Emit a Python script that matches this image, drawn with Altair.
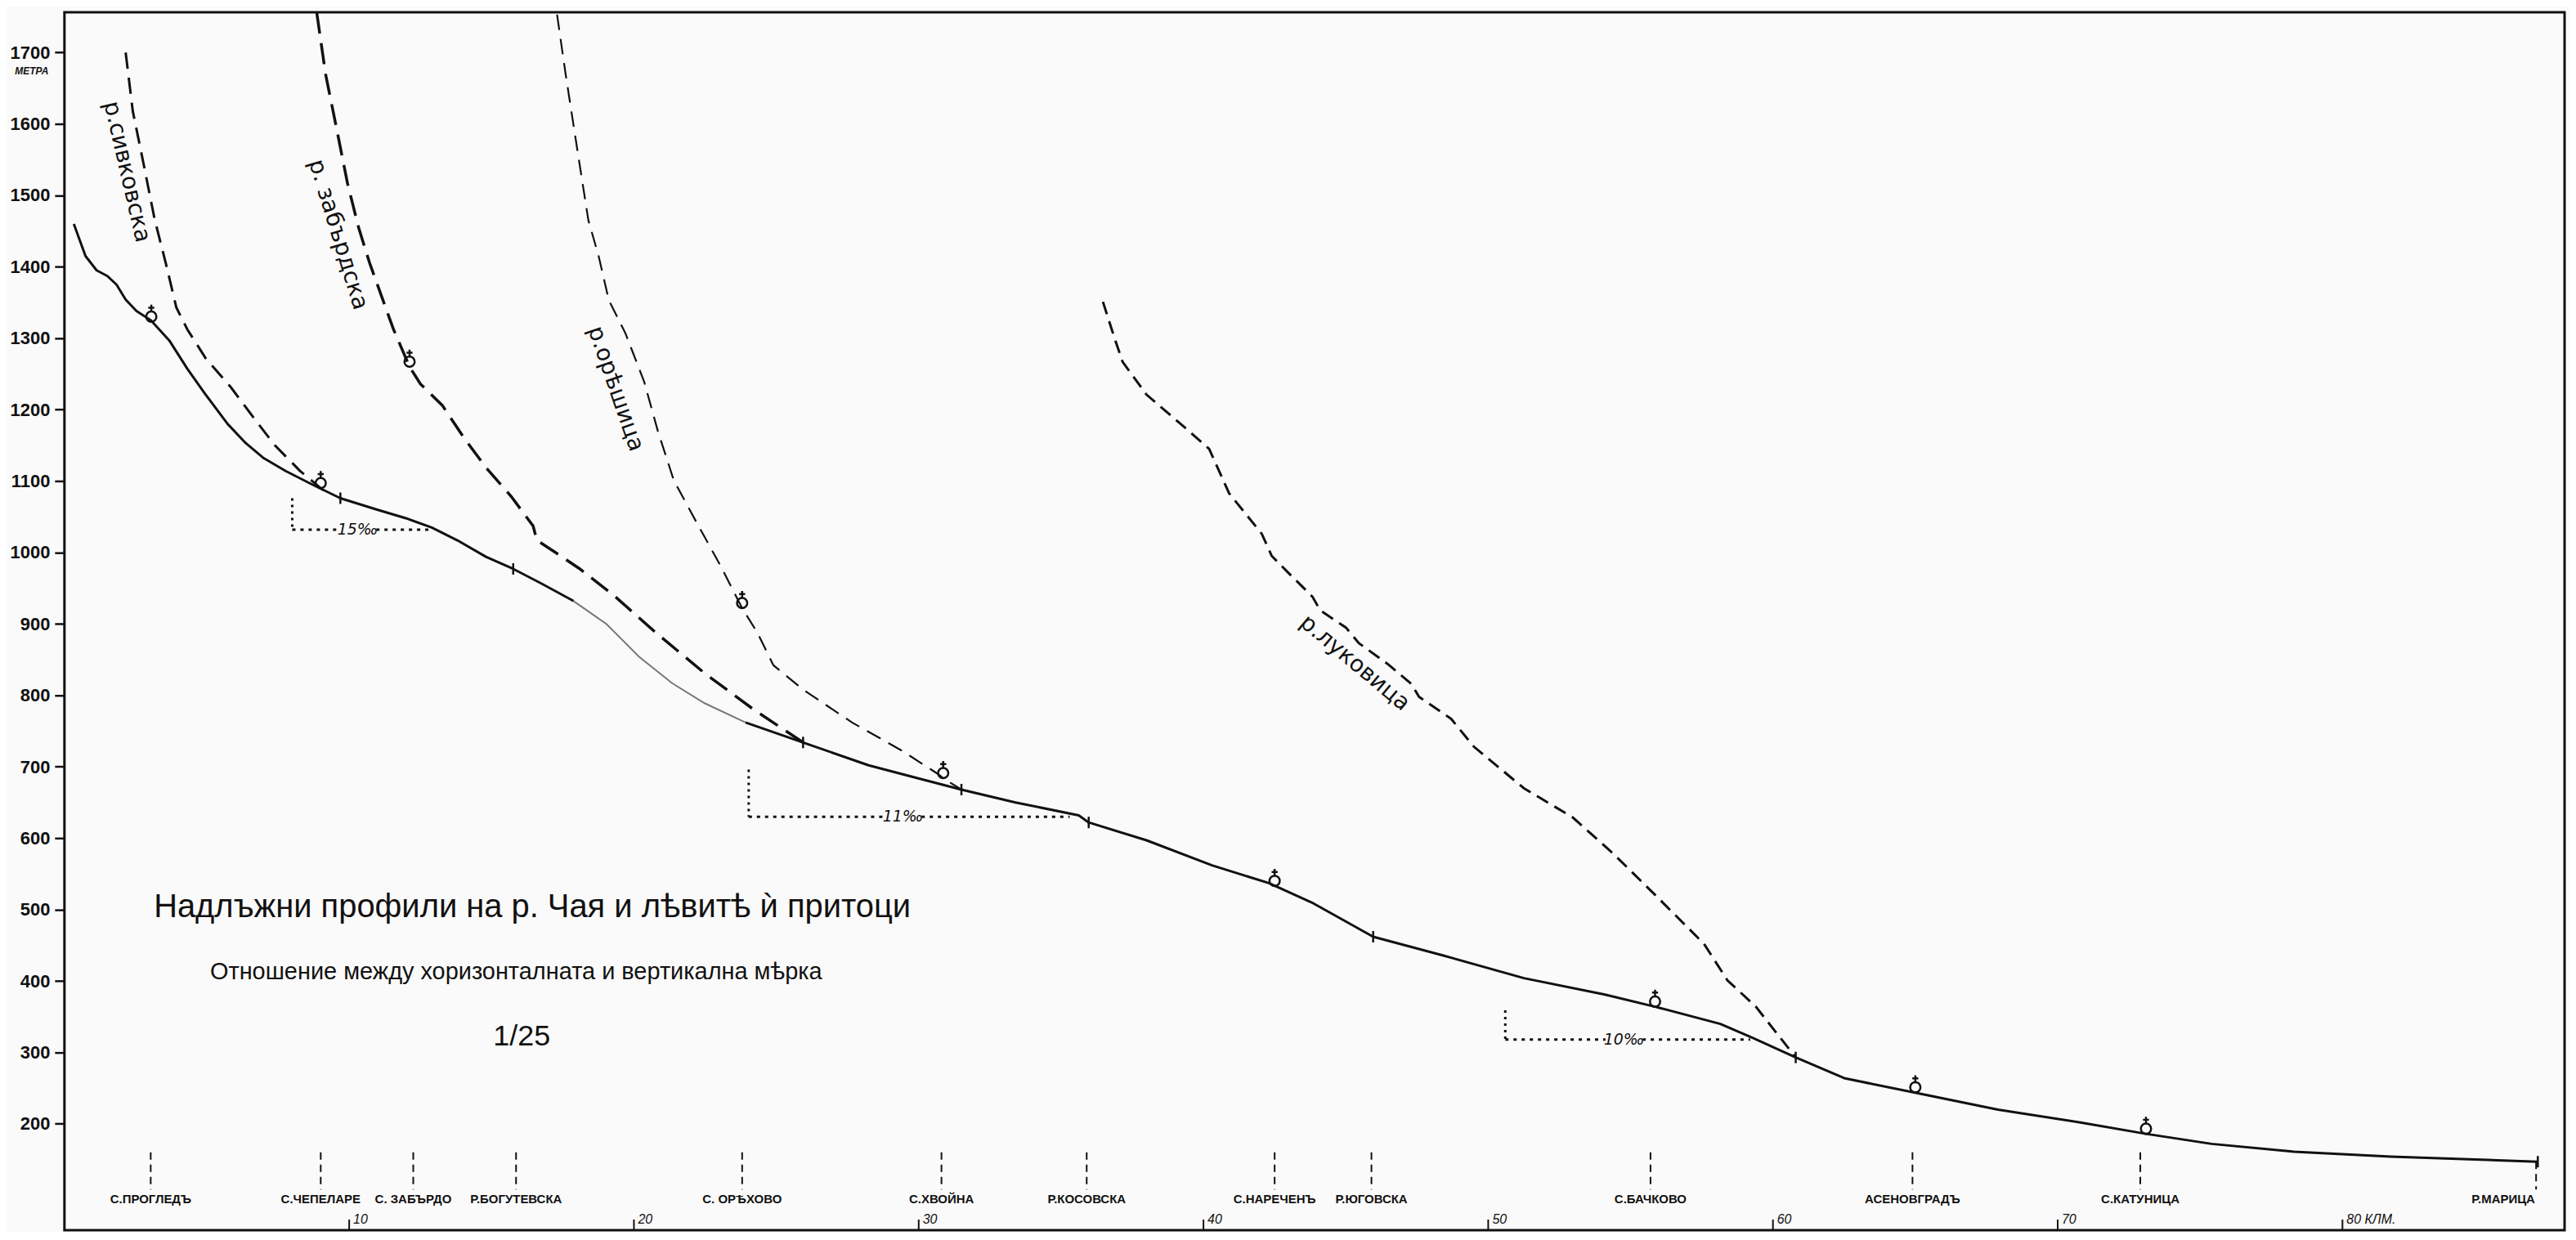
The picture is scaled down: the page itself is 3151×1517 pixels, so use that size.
import altair as alt
import pandas as pd

# ---------------- data (km from source, elevation in metres) ----------------
main_km = [0.33, 0.74, 1.13, 1.51, 1.83, 2.15, 2.53, 3.04, 3.68, 4.32, 4.96, 5.73, 6.37, 7.0, 7.77,
           8.66, 9.69, 10.98, 11.99, 12.9, 13.8, 14.8, 15.76, 16.73, 17.88, 19.03, 20.18, 21.34,
           22.48, 23.92, 25.94, 28.24, 29.96, 31.5, 33.4, 35.62, 35.97, 38.0, 40.3, 42.3, 43.8,
           45.96, 48.4, 51.25, 54.1, 55.86, 58.15, 59.2, 60.8, 62.5, 65.06, 67.9, 70.8, 73.1,
           75.4, 78.3, 81.7, 86.86]
main_m = [1460, 1415, 1395, 1387, 1375, 1354, 1338, 1325, 1297, 1257, 1221, 1180, 1153, 1132, 1114,
          1096, 1076, 1060, 1048, 1035, 1017, 994, 977, 957, 932, 900, 854, 817,
          789, 762, 734, 702, 684, 668, 650, 632, 622, 597, 562, 537, 510,
          462, 436, 404, 381, 364, 340, 322, 293, 264, 243, 220, 202, 186,
          172, 161, 154, 147]
faded_km = [17.88, 23.92]   # stretch of the main profile drawn faintly

sivk_km = [2.15, 2.4, 2.79, 3.17, 3.56, 3.93, 4.32, 4.96, 5.85, 6.62, 7.39, 8.28, 8.91, 9.1]
sivk_m = [1700, 1618, 1542, 1466, 1405, 1343, 1312, 1272, 1231, 1190, 1150, 1114, 1093, 1087]

zab_km = [8.86, 9.17, 9.56, 9.94, 10.33, 10.72, 11.09, 11.55, 12.12, 12.5, 13.27, 14.04, 14.8,
          15.7, 16.46, 16.59, 17.36, 18.1, 19.32, 20.76, 22.48, 24.21, 25.94]
zab_m = [1756, 1670, 1593, 1517, 1455, 1405, 1364, 1313, 1260, 1236, 1206, 1160, 1119,
         1078, 1037, 1017, 997, 977, 939, 888, 831, 780, 734]

ore_km = [17.3, 17.6, 18.0, 18.4, 18.76, 19.12, 19.7, 20.36, 20.84, 21.4, 22.2, 23.06, 23.8,
          24.33, 24.9, 25.94, 27.66, 29.39, 30.67, 30.86, 31.5]
ore_m = [1753, 1670, 1567, 1465, 1415, 1353, 1307, 1239, 1170, 1101, 1042, 980, 922,
         888, 842, 808, 762, 723, 690, 684, 668]

luk_km = [36.47, 36.87, 37.16, 38.0, 39.2, 40.2, 40.9, 42.05, 42.4, 42.97, 43.83, 44.1, 45.0,
          45.46, 46.5, 47.3, 47.57, 48.7, 49.5, 51.25, 52.97, 54.4, 55.85, 57.58, 58.4, 59.4, 60.8]
luk_m = [1351, 1301, 1267, 1221, 1180, 1145, 1083, 1026, 995, 972, 938, 919, 895,
         873, 843, 816, 798, 767, 728, 670, 629, 578, 521, 452, 401, 364, 293]

settle_km = [3.05, 9.0, 12.12, 23.8, 30.86, 42.5, 55.86, 65.0, 73.1]
settle_m = [1323, 1090, 1260, 922, 684, 533, 364, 244, 186]

cross_km = [9.69, 15.76, 25.94, 31.5, 35.97, 45.96, 60.8, 86.86]
cross_m = [1076, 977, 734, 668, 622, 462, 293, 147]

place_km = [3.03, 9.0, 12.25, 15.86, 23.8, 30.8, 35.9, 42.5, 45.9, 55.7, 64.9, 72.9, 86.8]
place_label_km = [3.03, 9.0, 12.25, 15.86, 23.8, 30.8, 35.9, 42.5, 45.9, 55.7, 64.9, 72.9, 85.65]
place_names = ["С.ПРОГЛЕДЪ", "С.ЧЕПЕЛАРЕ", "С. ЗАБЪРДО", "Р.БОГУТЕВСКА", "С. ОРѢХОВО", "С.ХВОЙНА",
               "Р.КОСОВСКА", "С.НАРЕЧЕНЪ", "Р.ЮГОВСКА", "С.БАЧКОВО", "АСЕНОВГРАДЪ", "С.КАТУНИЦА",
               "Р.МАРИЦА"]

km_ticks = [10, 20, 30, 40, 50, 60, 70, 80]
km_tick_labels = ["10", "20", "30", "40", "50", "60", "70", "80 КЛМ."]
m_ticks = [200, 300, 400, 500, 600, 700, 800, 900, 1000, 1100, 1200, 1300, 1400, 1500, 1600, 1700]

slope_labels = ["15‰", "11‰", "10‰"]
slope_km0 = [8.0, 24.03, 50.6]
slope_km1 = [12.92, 35.3, 59.2]
slope_top = [1076, 696, 359]
slope_base = [1032, 630, 318]
slope_label_km = [10.3, 29.45, 54.77]

river_names = ["р.сивковска", "р. забърдска", "р.орѣшица", "р.луковица"]
river_label_km = [2.18, 9.6, 19.35, 45.31]
river_label_m = [1533, 1445, 1229, 845]

title_text = "Надлъжни  профили на  р. Чая и лѣвитѣ ѝ притоци"
subtitle_text = "Отношение между  хоризонталната и вертикална мѣрка"
scale_text = "1/25"

# ---------------- styling ----------------
SANS = "'Liberation Sans', Arial, sans-serif"
PLAIN = "'DejaVu Sans', 'Liberation Sans', sans-serif"
INK = "#111111"

xs = alt.Scale(domain=[0, 87.8], nice=False, zero=False)
ys = alt.Scale(domain=[51, 1756.5], nice=False, zero=False)

yaxis = alt.Axis(values=m_ticks, format="d", title=None, grid=False, domain=False, tickColor=INK,
                 tickWidth=2.5, tickSize=12, labelPadding=6, labelFont=SANS,
                 labelFontSize=22, labelFontWeight="bold", labelColor=INK, labelFlush=False)


def X(field="km"):
    return alt.X(f"{field}:Q", scale=xs, axis=None)


def Y(field="m"):
    return alt.Y(f"{field}:Q", scale=ys, axis=yaxis)


# main profile, split in three pieces so that the faint stretch can be drawn lighter
main_df = pd.DataFrame({"km": main_km, "m": main_m})
f0, f1 = faded_km
seg_a = main_df[main_df.km <= f0].assign(seg="a")
seg_b = main_df[(main_df.km >= f0) & (main_df.km <= f1)].assign(seg="b")
seg_c = main_df[main_df.km >= f1].assign(seg="c")
main_all = pd.concat([seg_a, seg_b, seg_c], ignore_index=True)

main_dark = alt.Chart(main_all).transform_filter("datum.seg != 'b'").mark_line(
    color=INK, strokeWidth=3, strokeJoin="round").encode(
    x=X(), y=Y(), detail="seg:N", order="km:Q")
main_faint = alt.Chart(main_all).transform_filter("datum.seg == 'b'").mark_line(
    color="#777777", strokeWidth=2).encode(x=X(), y=Y(), order="km:Q")


def trib(kms, ms, dash, width):
    df = pd.DataFrame({"km": kms, "m": ms})
    return alt.Chart(df).mark_line(color=INK, strokeWidth=width, strokeDash=dash,
                                   clip=True).encode(x=X(), y=Y(), order="km:Q")


sivk = trib(sivk_km, sivk_m, [20, 11], 3)
zab = trib(zab_km, zab_m, [26, 12], 3.5)
ore = trib(ore_km, ore_m, [19, 11], 2.2)
luk = trib(luk_km, luk_m, [16, 9], 3)

# settlement symbols (circle with a cross on top, sitting on the profile)
settle_path = ("M-0.6,-0.6 A0.6,0.6 0 1,1 0.6,-0.6 A0.6,0.6 0 1,1 -0.6,-0.6 "
               "M0,-1.2 L0,-2 M-0.35,-1.65 L0.35,-1.65")
settle = alt.Chart(pd.DataFrame({"km": settle_km, "m": settle_m})).mark_point(
    shape=settle_path, size=440, filled=False, stroke=INK, strokeWidth=2.5, opacity=1).encode(
    x=X(), y=Y())

cross = alt.Chart(pd.DataFrame({"km": cross_km, "m": cross_m})).mark_point(
    shape="M0,-1 L0,1", size=196, filled=False, stroke=INK, strokeWidth=2.5, opacity=1).encode(
    x=X(), y=Y())

# place names with dashed leaders
place_df = pd.DataFrame({"km": place_km, "lk": place_label_km, "name": place_names})
place_df["top"] = [160] * (len(place_km) - 1) + [147]
place_df["bot"] = 108
leaders = alt.Chart(place_df).mark_rule(color=INK, strokeWidth=2, strokeDash=[9, 6]).encode(
    x=X(), y=Y("top"), y2="bot:Q")
place_lbl = alt.Chart(place_df.assign(m=95)).mark_text(
    font=SANS, fontSize=15, fontWeight="bold", color=INK, baseline="middle").encode(
    x=X("lk"), y=Y(), text="name:N")

# km ticks on the bottom edge
kt_df = pd.DataFrame({"km": km_ticks, "lbl": km_tick_labels})
kticks = alt.Chart(kt_df.assign(y0=51, y1=66)).mark_rule(color=INK, strokeWidth=2).encode(
    x=X(), y=Y("y0"), y2="y1:Q")
klabels = alt.Chart(kt_df.assign(m=57)).mark_text(
    font=SANS, fontSize=16, fontStyle="italic", color=INK, align="left", baseline="bottom",
    dx=5).encode(x=X(), y=Y(), text="lbl:N")

# slope triangles (dotted)
sl = pd.DataFrame({"lbl": slope_labels, "k0": slope_km0, "k1": slope_km1,
                   "top": slope_top, "base": slope_base, "lk": slope_label_km})
gap = 0.65
vert = alt.Chart(sl).mark_rule(color=INK, strokeWidth=3, strokeDash=[3, 5]).encode(
    x=X("k0"), y=Y("top"), y2="base:Q")
h_left = alt.Chart(sl.assign(ge=sl.lk - gap)).mark_rule(
    color=INK, strokeWidth=3, strokeDash=[4, 6]).encode(x=X("k0"), x2="ge:Q", y=Y("base"))
h_right = alt.Chart(sl.assign(gs=sl.lk + gap)).mark_rule(
    color=INK, strokeWidth=3, strokeDash=[4, 6]).encode(x=X("gs"), x2="k1:Q", y=Y("base"))
slope_txt = alt.Chart(sl).mark_text(font=PLAIN, fontSize=19, fontStyle="italic", color=INK,
                                    baseline="middle").encode(x=X("lk"), y=Y("base"), text="lbl:N")

# river names, rotated along their profiles
river_angles = [77, 73, 71, 40]
river_layers = []
for name, k, m, ang in zip(river_names, river_label_km, river_label_m, river_angles):
    river_layers.append(
        alt.Chart(pd.DataFrame({"km": [k], "m": [m], "t": [name]})).mark_text(
            font=PLAIN, fontSize=28, color=INK, angle=ang, baseline="middle").encode(
            x=X(), y=Y(), text="t:N"))

# titles
txt_df = pd.DataFrame({"km": [16.43, 15.86], "m": [503, 413], "t": [title_text, subtitle_text],
                       "kind": ["title", "sub"]})
title_mark = alt.Chart(txt_df).transform_filter("datum.kind == 'title'").mark_text(
    font=SANS, fontSize=40, color=INK, baseline="middle").encode(x=X(), y=Y(), text="t:N")
sub_mark = alt.Chart(txt_df).transform_filter("datum.kind == 'sub'").mark_text(
    font=SANS, fontSize=29, color=INK, baseline="middle").encode(x=X(), y=Y(), text="t:N")
scale_mark = alt.Chart(pd.DataFrame({"km": [16.06], "m": [322], "t": [scale_text]})).mark_text(
    font=SANS, fontSize=36, color=INK, baseline="middle").encode(
    x=X(), y=Y(), text="t:N")

metra = alt.Chart(pd.DataFrame({"km": [-1.15], "m": [1674], "t": ["МЕТРА"]})).mark_text(
    font=SANS, fontSize=12, fontStyle="italic", fontWeight="bold", color=INK,
    baseline="middle").encode(x=X(), y=Y(), text="t:N")

chart = alt.layer(
    main_dark, main_faint, sivk, zab, ore, luk, settle, cross, leaders, place_lbl,
    kticks, klabels, vert, h_left, h_right, slope_txt, *river_layers,
    title_mark, sub_mark, scale_mark, metra
).properties(
    width=3066, height=1494,
    padding={"left": 71, "top": 5, "right": 6, "bottom": 0},
    autosize=alt.AutoSizeParams(type="none"),
    background="#fafafa",
).configure_view(stroke=INK, strokeWidth=3)

chart.save("out.html", embed_options={"renderer": "svg", "actions": False})
